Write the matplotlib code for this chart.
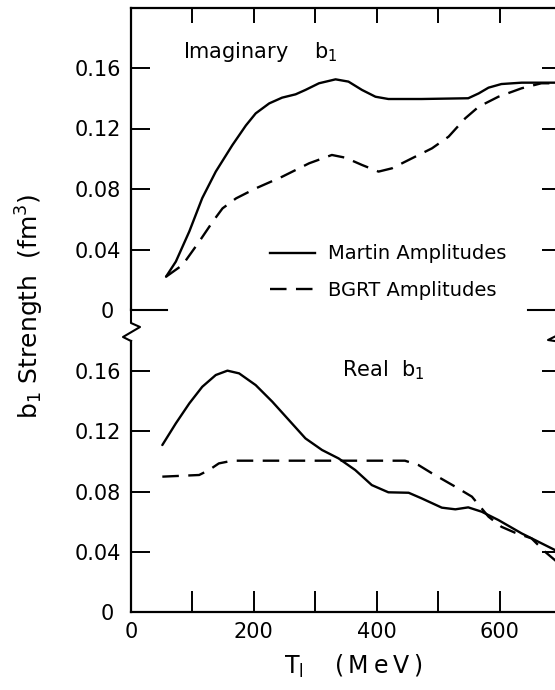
import matplotlib
matplotlib.use("Agg")
import matplotlib.pyplot as plt
from matplotlib.lines import Line2D

plt.rcParams['font.family'] = ['DejaVu Sans']

# ---- data ----
im_martin_x = [57, 73, 95, 116, 138, 165, 187, 203, 225, 246, 268, 284, 306, 333, 354, 376, 398, 419,
               473, 549, 566, 582, 603, 636, 690, 700]
im_martin_y = [0.022, 0.032, 0.052, 0.074, 0.0915, 0.109, 0.122, 0.130, 0.1366, 0.1404, 0.1426, 0.1455,
               0.1499, 0.1525, 0.151, 0.1455, 0.141, 0.1395, 0.1395, 0.140, 0.1432, 0.147, 0.1494,
               0.1503, 0.1503, 0.1503]
im_bgrt_x = [57, 84, 111, 133, 149, 171, 203, 246, 290, 327, 349, 376, 403, 425, 452, 490, 517, 544,
             566, 598, 636, 668, 690, 700]
im_bgrt_y = [0.022, 0.0298, 0.0452, 0.0584, 0.0672, 0.0738, 0.0804, 0.0881, 0.097, 0.1025, 0.1007,
             0.0959, 0.0915, 0.0937, 0.0992, 0.1069, 0.1146, 0.1267, 0.1344, 0.141, 0.1466, 0.1499,
             0.1499, 0.1499]

re_martin_x = [51, 73, 95, 116, 138, 157, 176, 203, 230, 257, 284, 311, 338, 365, 392, 419, 452, 473,
               506, 528, 549, 571, 598, 636, 663, 690, 700]
re_martin_y = [0.1109, 0.1253, 0.1386, 0.1496, 0.1574, 0.1603, 0.1585, 0.1507, 0.1397, 0.1275, 0.1153,
               0.1076, 0.102, 0.0943, 0.0843, 0.0795, 0.0792, 0.0755, 0.0693, 0.0682, 0.0695, 0.0666,
               0.0611, 0.0522, 0.0467, 0.0412, 0.039]
re_bgrt_x = [51, 111, 127, 143, 165, 446, 468, 490, 528, 555, 582, 603, 625, 652, 674, 690, 700]
re_bgrt_y = [0.0899, 0.091, 0.0943, 0.0987, 0.1005, 0.1005, 0.0976, 0.0921, 0.0832, 0.0766, 0.0633,
             0.0566, 0.0527, 0.0489, 0.040, 0.0345, 0.031]

y_ticks = [0, 0.04, 0.08, 0.12, 0.16]
y_ticklabels = ["0 ", "0.04", "0.08", "0.12", "0.16"]
x_ticks = [0, 100, 200, 300, 400, 500, 600, 700]
x_ticklabels = ["0", "", "200", "", "400", "", "600", ""]
series_names = ["Martin Amplitudes", "BGRT Amplitudes"]

W, H = 555, 690
fig = plt.figure(figsize=(W / 100, H / 100), dpi=100)

def fx(px):
    return px / W

def fy(py):
    return 1 - py / H

L, R = 131, 561
ax_top = fig.add_axes([fx(L), fy(310), fx(R) - fx(L), fy(7.5) - fy(310)])
ax_bot = fig.add_axes([fx(L), fy(612), fx(R) - fx(L), fy(341) - fy(612)])

LW = 1.7
DASH = (7, 4)
FS = 15

for ax in (ax_top, ax_bot):
    ax.set_xlim(0, 700)
    ax.set_yticks(y_ticks)
    ax.set_yticklabels(y_ticklabels)
    ax.set_xticks(x_ticks)
    for s in ax.spines.values():
        s.set_linewidth(1.6)
    ax.tick_params(direction='in', width=1.4, labelsize=FS, pad=7, length=14,
                   left=True, right=True)

ax_top.set_ylim(0, 0.2)
ax_top.spines['bottom'].set_visible(False)
ax_top.tick_params(axis='x', top=True, bottom=False, labelbottom=False, length=11)
ax_top.plot(im_martin_x, im_martin_y, color='black', lw=LW,
            solid_joinstyle='round', solid_capstyle='round')
ax_top.plot(im_bgrt_x, im_bgrt_y, color='black', lw=LW, dashes=DASH,
            dash_joinstyle='round')
# short zero baseline segments
ax_top.plot([0, 58], [0, 0], color='black', lw=1.5, clip_on=False)
ax_top.plot([646, 700], [0, 0], color='black', lw=1.5, clip_on=False)
ax_top.text(84, 0.1666, "Imaginary    b$_1$", fontsize=FS, ha='left', va='baseline')

handles = [Line2D([], [], color='black', lw=LW),
           Line2D([], [], color='black', lw=LW, dashes=DASH)]
ax_top.legend(handles, series_names, loc='center left',
              bbox_to_anchor=(226 / 700, 0.125), frameon=False, fontsize=14,
              handlelength=2.3, handletextpad=0.7, labelspacing=0.9,
              borderaxespad=0, borderpad=0)

ax_bot.set_ylim(0, 0.18)
ax_bot.spines['top'].set_visible(False)
ax_bot.tick_params(axis='x', top=False, bottom=True, length=15)
ax_bot.set_xticklabels(x_ticklabels)
ax_bot.plot(re_martin_x, re_martin_y, color='black', lw=LW,
            solid_joinstyle='round', solid_capstyle='round')
ax_bot.plot(re_bgrt_x, re_bgrt_y, color='black', lw=LW, dashes=DASH,
            dash_joinstyle='round')
ax_bot.text(343, 0.1563, "Real  b$_1$", fontsize=FS, ha='left', va='baseline')

# axis break zigzags (figure pixel coordinates)
zl = [(131, 309), (131, 323), (140, 327), (123, 337), (131, 341)]
zr = [(561, 309), (561, 325), (570, 329), (548, 340), (561, 342)]
for z in (zl, zr):
    fig.add_artist(Line2D([fx(p[0]) for p in z], [fy(p[1]) for p in z],
                          color='black', lw=1.5))

fig.text(fx(30), fy(306), "b$_1$ Strength  (fm$^3$)", rotation=90,
         fontsize=18, ha='center', va='center')
fig.text(fx(284), fy(666), "T$_\\mathrm{l}$    (\u2009M\u2009e\u2009V\u2009)", fontsize=17,
         ha='left', va='center')

fig.savefig("out.png", dpi=100)
